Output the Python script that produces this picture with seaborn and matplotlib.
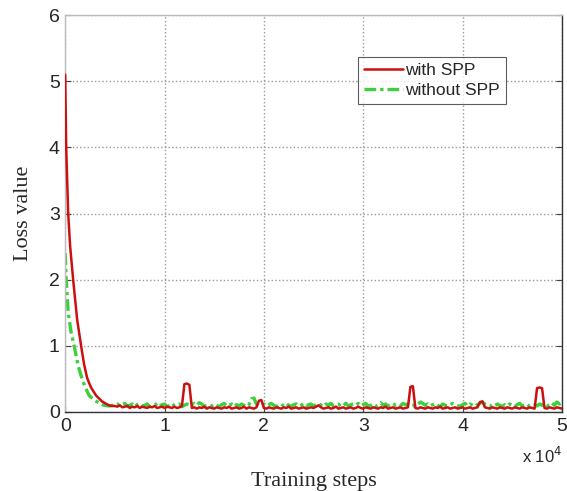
import matplotlib
matplotlib.use("Agg")
import matplotlib.pyplot as plt
import seaborn as sns
import pandas as pd

# ---- data ----
# initial fast decay
red_head_steps = [0, 100, 200, 300, 500, 800, 1200, 1600, 1900, 2200, 2400, 2600, 3100, 3700, 4400, 4750]
red_head_loss = [5.1, 4.0, 3.5, 3.0, 2.5, 2.0, 1.4, 1.0, 0.72, 0.52, 0.44, 0.37, 0.25, 0.16, 0.10, 0.09]
green_head_steps = [0, 100, 300, 600, 900, 1300, 1700, 2000, 2400, 3000, 3900, 4500, 4750]
green_head_loss = [2.4, 2.0, 1.5, 1.2, 1.0, 0.7, 0.5, 0.38, 0.25, 0.17, 0.10, 0.09, 0.10]

# plateau, one value every 250 steps from 5000 to 50000
tail_steps = list(range(5000, 50001, 250))
red_tail_loss = [
    0.09, 0.08, 0.10, 0.07, 0.08, 0.09, 0.06, 0.08, 0.07, 0.09, 0.06, 0.08, 0.07, 0.06, 0.08, 0.07, 0.09, 0.06, 0.07, 0.08,
    0.06, 0.08, 0.07, 0.06, 0.08, 0.06, 0.07, 0.09, 0.42, 0.43, 0.41, 0.06, 0.07, 0.05, 0.07, 0.06, 0.08, 0.05, 0.07, 0.06,
    0.05, 0.07, 0.06, 0.05, 0.07, 0.06, 0.08, 0.05, 0.06, 0.07, 0.05, 0.06, 0.08, 0.05, 0.07, 0.06, 0.05, 0.07, 0.17, 0.18,
    0.06, 0.05, 0.07, 0.06, 0.05, 0.07, 0.06, 0.05, 0.07, 0.06, 0.08, 0.05, 0.06, 0.07, 0.05, 0.06, 0.07, 0.05, 0.06, 0.07,
    0.06, 0.08, 0.10, 0.07, 0.05, 0.06, 0.07, 0.05, 0.06, 0.08, 0.05, 0.06, 0.07, 0.05, 0.06, 0.07, 0.05, 0.06, 0.08, 0.06,
    0.05, 0.07, 0.06, 0.05, 0.07, 0.06, 0.05, 0.07, 0.06, 0.08, 0.05, 0.06, 0.07, 0.05, 0.06, 0.07, 0.05, 0.06, 0.07, 0.38,
    0.39, 0.06, 0.05, 0.07, 0.06, 0.05, 0.07, 0.06, 0.05, 0.07, 0.06, 0.08, 0.05, 0.06, 0.07, 0.05, 0.06, 0.07, 0.05, 0.06,
    0.07, 0.05, 0.06, 0.07, 0.05, 0.06, 0.07, 0.15, 0.16, 0.07, 0.06, 0.05, 0.07, 0.06, 0.05, 0.07, 0.06, 0.05, 0.07, 0.06,
    0.05, 0.07, 0.06, 0.05, 0.07, 0.06, 0.05, 0.07, 0.06, 0.05, 0.36, 0.37, 0.36, 0.06, 0.05, 0.07, 0.06, 0.05, 0.07, 0.06,
    0.05]
green_tail_loss = [
    0.10, 0.12, 0.09, 0.11, 0.13, 0.09, 0.10, 0.12, 0.08, 0.11, 0.13, 0.09, 0.10, 0.12, 0.08, 0.11, 0.10, 0.13, 0.09, 0.11,
    0.12, 0.08, 0.10, 0.13, 0.09, 0.11, 0.12, 0.08, 0.10, 0.12, 0.09, 0.11, 0.13, 0.10, 0.14, 0.12, 0.08, 0.10, 0.11, 0.09,
    0.12, 0.10, 0.08, 0.11, 0.13, 0.09, 0.10, 0.12, 0.08, 0.11, 0.09, 0.12, 0.10, 0.08, 0.11, 0.20, 0.21, 0.12, 0.09, 0.10,
    0.12, 0.09, 0.11, 0.13, 0.10, 0.08, 0.11, 0.12, 0.09, 0.13, 0.10, 0.08, 0.11, 0.12, 0.09, 0.10, 0.13, 0.09, 0.11, 0.12,
    0.09, 0.11, 0.13, 0.10, 0.08, 0.12, 0.10, 0.13, 0.09, 0.11, 0.12, 0.08, 0.10, 0.13, 0.09, 0.11, 0.12, 0.10, 0.13, 0.09,
    0.11, 0.13, 0.09, 0.10, 0.12, 0.08, 0.11, 0.14, 0.10, 0.12, 0.09, 0.11, 0.13, 0.10, 0.12, 0.09, 0.13, 0.11, 0.12, 0.09,
    0.10, 0.08, 0.11, 0.15, 0.13, 0.10, 0.12, 0.09, 0.11, 0.13, 0.10, 0.08, 0.12, 0.10, 0.09, 0.11, 0.13, 0.12, 0.10, 0.08,
    0.11, 0.13, 0.09, 0.12, 0.10, 0.08, 0.11, 0.13, 0.15, 0.12, 0.10, 0.08, 0.11, 0.09, 0.12, 0.10, 0.08, 0.11, 0.09, 0.12,
    0.10, 0.08, 0.11, 0.13, 0.09, 0.10, 0.12, 0.08, 0.10, 0.11, 0.09, 0.12, 0.10, 0.13, 0.09, 0.11, 0.14, 0.10, 0.15, 0.12,
    0.14]

series_labels = ["with SPP", "without SPP"]
x_ticks = [0, 10000, 20000, 30000, 40000, 50000]
x_tick_labels = ["0", "1", "2", "3", "4", "5"]
y_ticks = [0, 1, 2, 3, 4, 5, 6]

# ---- plot ----
sns.set_style("white")
fig = plt.figure(figsize=(5.67, 4.91), dpi=100)
ax = fig.add_axes([0.115, 0.161, 0.876, 0.808])

red_df = pd.DataFrame({"step": red_head_steps + tail_steps, "loss": red_head_loss + red_tail_loss})
green_df = pd.DataFrame({"step": green_head_steps + tail_steps, "loss": green_head_loss + green_tail_loss})

sns.lineplot(data=green_df, x="step", y="loss", ax=ax, color="#3cd03c", lw=2.4,
             linestyle=(0, (3.5, 1.2, 1, 1.2)), label=series_labels[1], zorder=2)
sns.lineplot(data=red_df, x="step", y="loss", ax=ax, color="#cc1010", lw=1.8,
             label=series_labels[0], zorder=3)

ax.set_xlim(0, 50000)
ax.set_ylim(0, 6)
ax.set_xticks(x_ticks)
ax.set_xticklabels(x_tick_labels)
ax.set_yticks(y_ticks)
tick_font = "Liberation Sans"
for lab in ax.get_xticklabels() + ax.get_yticklabels():
    lab.set_family(tick_font)
    lab.set_fontsize(14)
ax.tick_params(direction="in", length=4, color="#444444", pad=4, right=True, top=False,
               bottom=True, left=True)

ax.grid(True, linestyle=":", color="#9a9a9a", lw=1.0)
ax.set_axisbelow(True)
for side in ["left", "top"]:
    ax.spines[side].set_color("#bbbbbb")
for side in ["right", "bottom"]:
    ax.spines[side].set_color("#333333")
for s in ax.spines.values():
    s.set_linewidth(1.0)

ax.set_xlabel("Training steps", family="Liberation Serif", fontsize=16, labelpad=27)
ax.set_ylabel("Loss value", family="Liberation Serif", fontsize=16, labelpad=11)

ax.text(1.0, -0.085, r"x 10$^{4}$", transform=ax.transAxes, ha="right", va="top",
        family="Liberation Sans", fontsize=12)

handles, labels = ax.get_legend_handles_labels()
order = [labels.index(series_labels[0]), labels.index(series_labels[1])]
leg = ax.legend([handles[i] for i in order], [labels[i] for i in order],
                loc="upper left", bbox_to_anchor=(0.59, 0.895), frameon=True, fancybox=False,
                edgecolor="#333333", prop={"family": "Liberation Sans", "size": 12.5},
                handlelength=2.2, handletextpad=0.15, borderpad=0.35, labelspacing=0.25,
                borderaxespad=0)
leg.get_frame().set_linewidth(0.8)

fig.savefig("out.png", dpi=100)
